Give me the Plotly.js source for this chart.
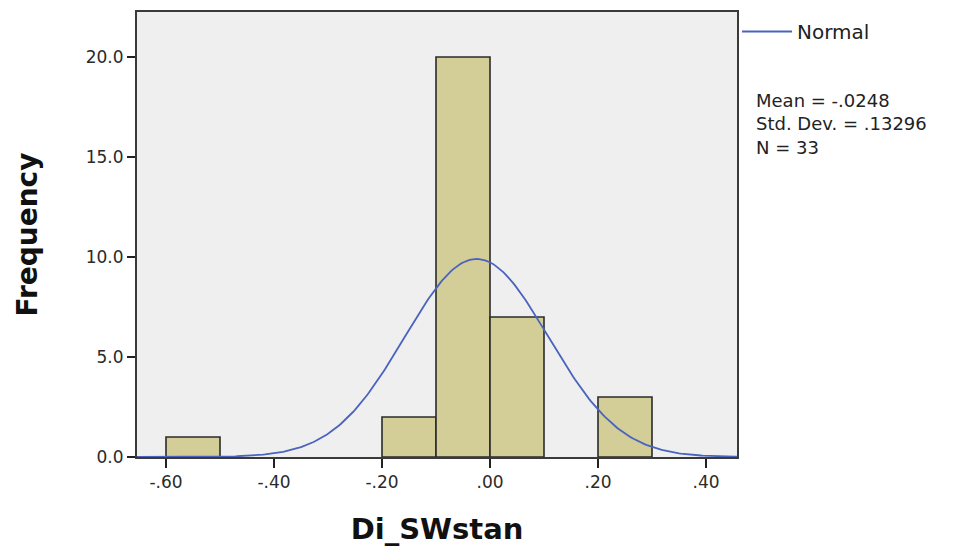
<!DOCTYPE html>
<html>
<head>
<meta charset="utf-8">
<script src="https://cdn.plot.ly/plotly-3.0.1.min.js"></script>
<style>
  html, body { margin: 0; padding: 0; background: #ffffff; }
  #chart { width: 967px; height: 546px; }
</style>
</head>
<body>
<div id="chart"></div>
<script>
// Histogram of Di_SWstan: bin centres and frequencies (bin width .10)
const binCenters = [-0.55, -0.15, -0.05, 0.05, 0.25];
const binCounts = [1, 2, 20, 7, 3];
const binWidth = 0.1;

// Summary statistics shown beside the plot
const statMean = -0.0248;
const statSD = 0.13296;
const statN = 33;

// Axis ticks
const xTickVals = [-0.6, -0.4, -0.2, 0.0, 0.2, 0.4];
const xTickText = ['-.60', '-.40', '-.20', '.00', '.20', '.40'];
const yTickVals = [0, 5, 10, 15, 20];
const yTickText = ['0.0', '5.0', '10.0', '15.0', '20.0'];

const xRange = [-0.6537, 0.4574];
const yRange = [0, 22.25];

// Fitted normal curve scaled to the histogram (N * bin width * density)
const curveX = [];
const curveY = [];
const steps = 300;
for (let i = 0; i <= steps; i++) {
  const x = xRange[0] + (xRange[1] - xRange[0]) * i / steps;
  const z = (x - statMean) / statSD;
  curveX.push(x);
  curveY.push(statN * binWidth * Math.exp(-0.5 * z * z) / (statSD * Math.sqrt(2 * Math.PI)));
}

const bars = {
  type: 'bar',
  x: binCenters,
  y: binCounts,
  width: binWidth,
  marker: { color: '#D3CE98', line: { color: '#2b2b2b', width: 1.6 } },
  showlegend: false,
  hoverinfo: 'x+y'
};

const normal = {
  type: 'scatter',
  mode: 'lines',
  x: curveX,
  y: curveY,
  name: 'Normal',
  line: { color: '#4A63BE', width: 1.8 },
  showlegend: true
};

const baseFont = 'DejaVu Sans, Verdana, sans-serif';
const tickFont = { family: baseFont, size: 17, color: '#2a2a2a' };

const layout = {
  width: 967,
  height: 546,
  margin: { l: 137, r: 230, t: 12, b: 89 },
  paper_bgcolor: '#ffffff',
  plot_bgcolor: '#EFEFEF',
  bargap: 0,
  xaxis: {
    range: xRange,
    tickvals: xTickVals,
    ticktext: xTickText,
    ticks: 'outside',
    ticklen: 9,
    tickwidth: 2,
    tickcolor: '#222',
    showgrid: false,
    zeroline: false,
    showline: true,
    linecolor: '#3a3a3a',
    linewidth: 2,
    mirror: true,
    tickfont: tickFont,
    title: { text: 'Di_SWstan', standoff: 30,
      font: { family: baseFont, size: 29, color: '#111', weight: 'bold' } }
  },
  yaxis: {
    range: yRange,
    tickvals: yTickVals,
    ticktext: yTickText,
    ticks: 'outside',
    ticklen: 8,
    tickwidth: 2,
    tickcolor: '#222',
    showgrid: false,
    zeroline: false,
    showline: true,
    linecolor: '#3a3a3a',
    linewidth: 2,
    mirror: true,
    tickfont: tickFont,
    title: { text: 'Frequency', standoff: 40,
      font: { family: baseFont, size: 28, color: '#111', weight: 'bold' } }
  },
  legend: {
    x: 1.0, xanchor: 'left',
    y: 1.0, yanchor: 'top',
    bgcolor: 'rgba(0,0,0,0)',
    font: { family: baseFont, size: 20, color: '#222' },
    itemwidth: 50
  },
  annotations: [{
    xref: 'paper', yref: 'paper',
    x: 1.028, y: 0.83,
    xanchor: 'left', yanchor: 'top',
    align: 'left',
    showarrow: false,
    text: 'Mean = -.0248<br>Std. Dev. = .13296<br>N = ' + statN,
    font: { family: baseFont, size: 18, color: '#222' }
  }]
};

Plotly.newPlot('chart', [bars, normal], layout, { displayModeBar: false, staticPlot: true });
</script>
</body>
</html>
